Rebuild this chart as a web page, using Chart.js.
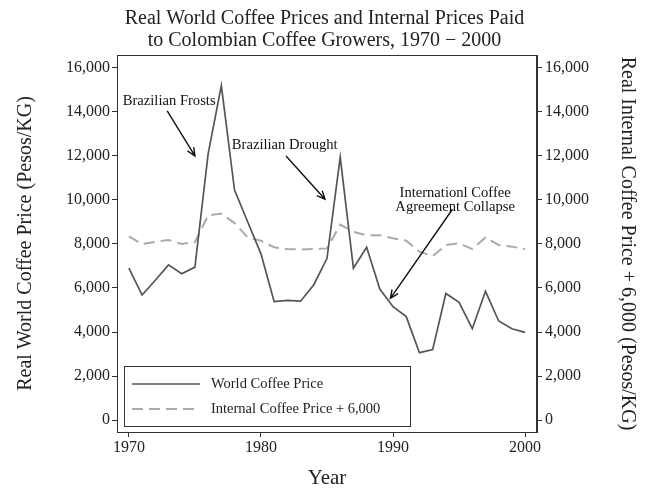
<!DOCTYPE html>
<html>
<head>
<meta charset="utf-8">
<title>Colombian coffee prices</title>
<script src="https://cdn.jsdelivr.net/npm/chart.js@4.4.1/dist/chart.umd.min.js"></script>
<style>
    html, body { margin: 0; padding: 0; background: #fff; }
    #wrap { width: 649px; height: 498px; }
</style>
</head>
<body>
<div id="wrap"><canvas id="myChart" width="649" height="498"></canvas></div>
<script>
// data
var years = [1970, 1971, 1972, 1973, 1974, 1975, 1976, 1977, 1978, 1979,
             1980, 1981, 1982, 1983, 1984, 1985, 1986, 1987, 1988, 1989,
             1990, 1991, 1992, 1993, 1994, 1995, 1996, 1997, 1998, 1999, 2000];
var worldPrice = [6900, 5680, 6350, 7050, 6650, 6950, 12100, 15200, 10450, 9000,
                  7550, 5380, 5440, 5400, 6150, 7350, 11950, 6900, 7850, 5950,
                  5150, 4700, 3060, 3200, 5750, 5350, 4150, 5850, 4500, 4150, 3980];
var internalPrice = [8350, 8000, 8100, 8180, 8000, 8090, 9300, 9380, 8950, 8300,
                     8150, 7850, 7770, 7750, 7770, 7800, 8880, 8550, 8400, 8400,
                     8260, 8150, 7650, 7450, 7950, 8030, 7770, 8300, 7950, 7880, 7770];
var xTicks = [1970, 1980, 1990, 2000];
var yTicks = [0, 2000, 4000, 6000, 8000, 10000, 12000, 14000, 16000];

// text, arrow tail, arrow head (data coords)
var notes = [
    { text: ['Brazilian Frosts'], at: [1973.05, 14510], from: [1972.9, 14050], to: [1975.0, 12000] },
    { text: ['Brazilian Drought'], at: [1981.8, 12510], from: [1981.9, 12000], to: [1984.85, 10030] },
    { text: ['Internationl Coffee', 'Agreement Collapse'], at: [1994.7, 10290], from: [1994.5, 9580], to: [1989.8, 5530] }
];

var legendItems = ['World Coffee Price', 'Internal Coffee Price + 6,000'];

var serif = 'Liberation Serif, Times New Roman, serif';
var ink = '#222';

function toPairs(vals) {
    return vals.map(function (v, i) { return { x: years[i], y: v }; });
}

function fmt(v) {
    return Number(v).toLocaleString('en-US');
}

function setTicks(list) {
    return function (scale) {
        scale.ticks = list.map(function (v) { return { value: v }; });
    };
}

function fixWidth(w) {
    return function (scale) { scale.width = w; };
}

function arrow(ctx, x1, y1, x2, y2) {
    var a = Math.atan2(y2 - y1, x2 - x1);
    var len = 9, spread = 0.42;
    ctx.beginPath();
    ctx.moveTo(x1, y1);
    ctx.lineTo(x2, y2);
    ctx.moveTo(x2 - len * Math.cos(a - spread), y2 - len * Math.sin(a - spread));
    ctx.lineTo(x2, y2);
    ctx.lineTo(x2 - len * Math.cos(a + spread), y2 - len * Math.sin(a + spread));
    ctx.stroke();
}

var extras = {
    id: 'extras',
    afterDraw: function (chart) {
        var ctx = chart.ctx, a = chart.chartArea;
        var xs = chart.scales.x, ys = chart.scales.y;
        ctx.save();

        // plot region frame
        ctx.strokeStyle = '#333';
        ctx.lineWidth = 1;
        ctx.strokeRect(a.left + 0.5, a.top + 0.5, a.right - a.left - 1, a.bottom - a.top);

        // annotations
        ctx.fillStyle = '#111';
        ctx.strokeStyle = '#111';
        ctx.lineWidth = 1.4;
        ctx.font = '14.6px ' + serif;
        ctx.textAlign = 'center';
        ctx.textBaseline = 'middle';
        notes.forEach(function (n) {
            var tx = xs.getPixelForValue(n.at[0]), ty = ys.getPixelForValue(n.at[1]);
            n.text.forEach(function (line, i) {
                ctx.fillText(line, tx, ty + i * 14);
            });
            arrow(ctx,
                xs.getPixelForValue(n.from[0]), ys.getPixelForValue(n.from[1]),
                xs.getPixelForValue(n.to[0]), ys.getPixelForValue(n.to[1]));
        });

        // legend box
        var bx = 124, by = 366, bw = 286, bh = 60;
        ctx.fillStyle = '#fff';
        ctx.fillRect(bx, by, bw, bh);
        ctx.strokeStyle = '#333';
        ctx.lineWidth = 1;
        ctx.strokeRect(bx + 0.5, by + 0.5, bw, bh);
        ctx.textAlign = 'left';
        ctx.fillStyle = ink;
        ctx.font = '14.5px ' + serif;
        chart.data.datasets.forEach(function (ds, i) {
            var ly = by + 18 + i * 25;
            ctx.strokeStyle = ds.borderColor;
            ctx.lineWidth = ds.borderWidth;
            ctx.setLineDash(ds.borderDash || []);
            ctx.beginPath();
            ctx.moveTo(bx + 8, ly);
            ctx.lineTo(bx + 76, ly);
            ctx.stroke();
            ctx.setLineDash([]);
            ctx.fillText(legendItems[i], bx + 87, ly);
        });
        ctx.restore();
    }
};

var axisGrid = { display: true, drawOnChartArea: false, drawTicks: true, tickLength: 5, color: '#333' };
var tickFont = { family: serif, size: 16 };

var ctx = document.getElementById('myChart').getContext('2d');
var chart = new Chart(ctx, {
    type: 'line',
    data: {
        datasets: [
            {
                label: legendItems[0],
                data: toPairs(worldPrice),
                borderColor: '#555',
                borderWidth: 1.7,
                pointRadius: 0,
                tension: 0,
                yAxisID: 'y'
            },
            {
                label: legendItems[1],
                data: toPairs(internalPrice),
                borderColor: '#aaa',
                borderWidth: 2,
                borderDash: [11, 6],
                pointRadius: 0,
                tension: 0,
                yAxisID: 'y2'
            }
        ]
    },
    options: {
        responsive: false,
        animation: false,
        devicePixelRatio: 1,
        layout: { padding: 0 },
        plugins: {
            legend: { display: false },
            tooltip: { enabled: false },
            title: {
                display: true,
                text: ['Real World Coffee Prices and Internal Prices Paid',
                       'to Colombian Coffee Growers, 1970 \u2212 2000'],
                color: ink,
                font: { family: serif, size: 20, weight: 'normal', lineHeight: 1.1 },
                padding: { top: 8, bottom: 3 }
            }
        },
        scales: {
            x: {
                type: 'linear',
                min: 1969.1,
                max: 2000.9,
                afterBuildTicks: setTicks(xTicks),
                afterFit: function (scale) { scale.height = 66; },
                grid: axisGrid,
                border: { display: true, color: '#333' },
                ticks: { color: ink, font: tickFont, padding: 1, callback: function (v) { return String(v); } },
                title: { display: true, text: 'Year', color: ink, font: { family: serif, size: 21 }, padding: { top: 0, bottom: 7 } }
            },
            y: {
                position: 'left',
                min: -545,
                max: 16590,
                afterBuildTicks: setTicks(yTicks),
                afterFit: fixWidth(117),
                grid: axisGrid,
                border: { display: true, color: '#333' },
                ticks: { color: ink, font: tickFont, padding: 2, callback: fmt },
                title: { display: true, text: 'Real World Coffee Price (Pesos/KG)', color: ink, font: { family: serif, size: 20 }, padding: { top: 14, bottom: 0 } }
            },
            y2: {
                position: 'right',
                min: -545,
                max: 16590,
                afterBuildTicks: setTicks(yTicks),
                afterFit: fixWidth(112),
                grid: axisGrid,
                border: { display: true, color: '#333' },
                ticks: { color: ink, font: tickFont, padding: 3, callback: fmt },
                title: { display: true, text: 'Real Internal Coffee Price + 6,000 (Pesos/KG)', color: ink, font: { family: serif, size: 20 }, padding: { top: 10, bottom: 0 } }
            }
        }
    },
    plugins: [extras]
});
</script>
</body>
</html>
